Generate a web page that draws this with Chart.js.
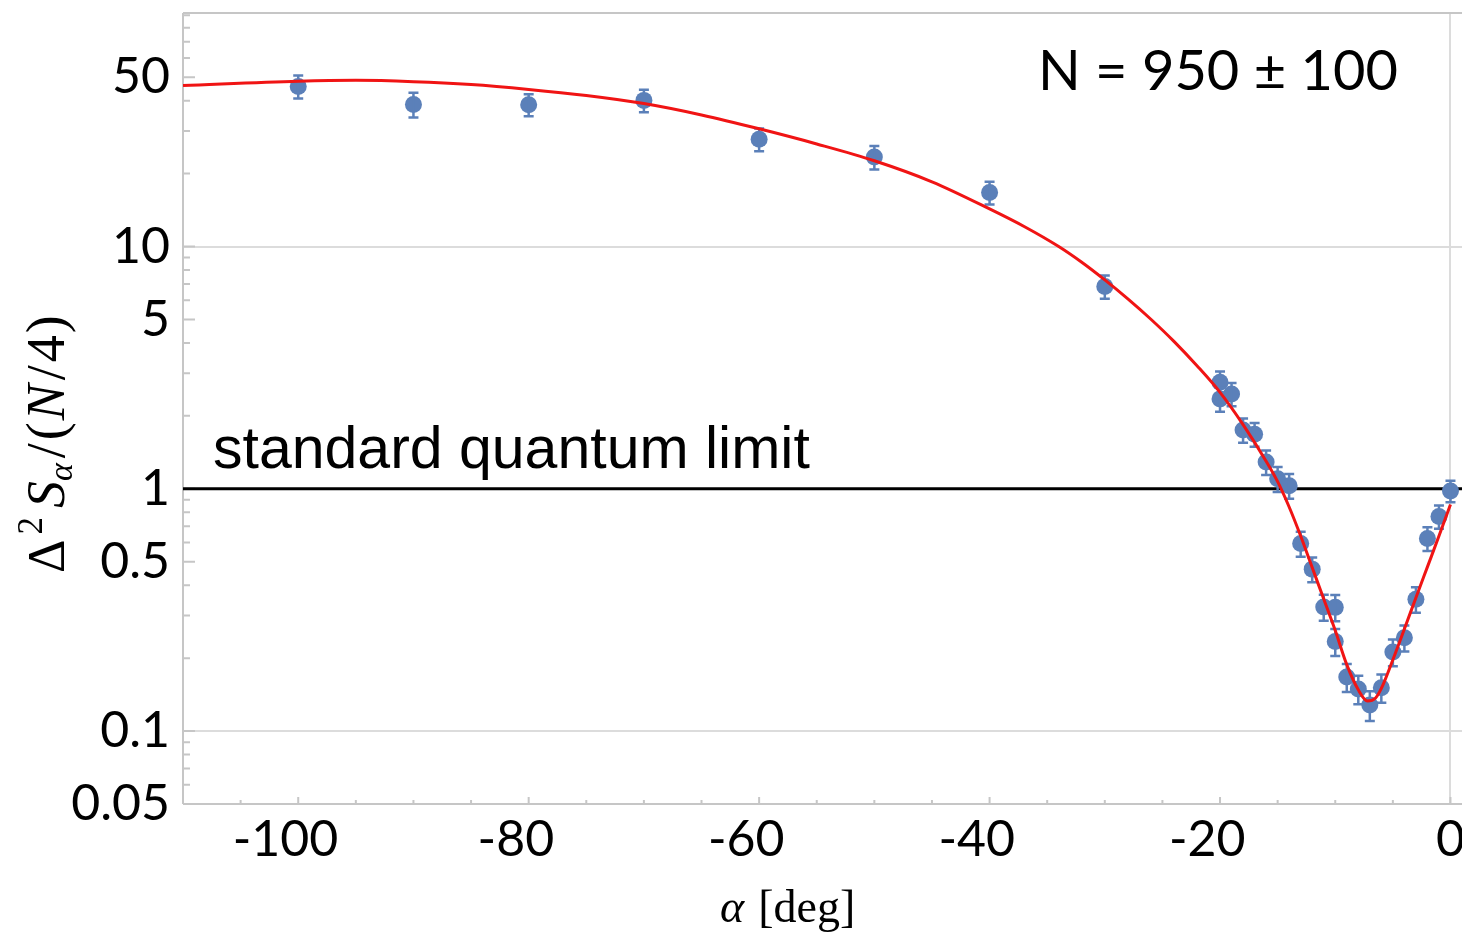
<!DOCTYPE html>
<html><head><meta charset="utf-8">
<script src="https://cdn.jsdelivr.net/npm/chart.js@4/dist/chart.umd.min.js"></script>
<style>html,body{margin:0;padding:0;background:#fff;overflow:hidden}#wrap{width:1540px;height:935px;position:relative}</style>
</head><body><div id="wrap"><canvas id="c" width="1462" height="935"></canvas></div>
<script>
// ---- data ----
const angleData    = [-100,-90,-80,-70,-60,-50,-40,-30,-20,-20,-19,-18,-17,-16,-15,-14,-13,-12,-11,-10,-10,-9,-8,-7,-6,-5,-4,-3,-2,-1,0];
const varianceData = [45.8,38.6,38.5,40.1,27.7,23.4,16.7,6.84,2.75,2.35,2.46,1.75,1.68,1.29,1.10,1.03,0.594,0.466,0.325,0.324,0.234,0.167,0.149,0.128,0.151,0.212,0.243,0.350,0.623,0.769,0.98];
const varianceErr  = [5.0,4.5,4.0,4.3,3.0,2.6,1.8,0.75,0.30,0.27,0.27,0.20,0.19,0.15,0.13,0.12,0.07,0.055,0.04,0.04,0.03,0.022,0.02,0.018,0.02,0.027,0.03,0.042,0.07,0.085,0.10];
const fitAngle     = [-110,-100,-95,-90,-85,-80,-75,-70,-65,-60,-55,-50,-45,-40,-37,-34,-32,-30,-28,-26,-24,-22,-20,-18,-16,-15,-14,-13,-12,-11,-10,-9,-8,-7.2,-6.5,-6,-5,-4,-3,-2,-1,0];
const fitVariance  = [46.2,48.1,48.5,47.9,46.6,44.5,42.0,38.9,34.9,30.6,26.5,22.6,18.5,14.3,12.1,10.0,8.61,7.28,6.08,5.01,4.06,3.22,2.50,1.84,1.30,1.07,0.841,0.638,0.473,0.351,0.260,0.188,0.148,0.133,0.137,0.150,0.197,0.264,0.355,0.476,0.638,0.861];
const sqlLevel     = [1, 1];
const sqlAngle     = [-110, 1];
const xTickLabels  = [-100,-80,-60,-40,-20,0];
const yTickLabels  = [0.05,0.1,0.5,1,5,10,50];
const yGridValues  = [0.1,10];
const xGridValues  = [0];
const annotationText = 'N = 950 \u00B1 100';
const sqlText = 'standard quantum limit';

const GRAY = '#c6c6c6';
const BLUE = '#5b80b9';
const TARGET_RIGHT = 1462;

const extras = {
  id: 'extras',
  afterDatasetDraw(chart, args) {
    if (args.index !== 1) return;
    const ctx = chart.ctx, xs = chart.scales.x, ys = chart.scales.y;
    ctx.save();
    ctx.strokeStyle = BLUE; ctx.lineWidth = 2.5;
    angleData.forEach((a, i) => {
      const px = xs.getPixelForValue(a);
      const y1 = ys.getPixelForValue(varianceData[i] + varianceErr[i]);
      const y2 = ys.getPixelForValue(varianceData[i] - varianceErr[i]);
      ctx.beginPath();
      ctx.moveTo(px, y1); ctx.lineTo(px, y2);
      ctx.moveTo(px - 5, y1); ctx.lineTo(px + 5, y1);
      ctx.moveTo(px - 5, y2); ctx.lineTo(px + 5, y2);
      ctx.stroke();
    });
    ctx.restore();
  },
  beforeDatasetsDraw(chart) {
    const ctx = chart.ctx, a = chart.chartArea, xs = chart.scales.x, ys = chart.scales.y;
    ctx.save();
    ctx.strokeStyle = GRAY; ctx.lineWidth = 2;
    ctx.beginPath();
    ctx.moveTo(a.left, a.top); ctx.lineTo(a.right, a.top);
    ctx.moveTo(a.left, a.top); ctx.lineTo(a.left, a.bottom);
    ctx.moveTo(a.left, a.bottom); ctx.lineTo(a.right, a.bottom);
    ys.ticks.forEach(t => {
      const py = ys.getPixelForValue(t.value);
      const len = yTickLabels.includes(t.value) ? 12 : 7;
      ctx.moveTo(a.left, py); ctx.lineTo(a.left + len, py);
    });
    xs.ticks.forEach(t => {
      const px = xs.getPixelForValue(t.value);
      const len = xTickLabels.includes(t.value) ? 7 : 4;
      ctx.moveTo(px, a.bottom); ctx.lineTo(px, a.bottom - len);
    });
    ctx.stroke();
    ctx.restore();
  },
  afterDraw(chart) {
    const ctx = chart.ctx;
    ctx.save();
    ctx.fillStyle = '#000';
    ctx.textBaseline = 'alphabetic';
    ctx.textAlign = 'left';
    ctx.font = '56px Lato';
    ctx.fillText(annotationText, 1038, 90);
    ctx.font = '59px "Liberation Sans"';
    ctx.fillText(sqlText, 213, 468);
    // x title
    let x = 720;
    const bx = 922;
    ctx.font = 'italic 46px "Liberation Serif"';
    ctx.fillText('\u03B1', x, bx); x += ctx.measureText('\u03B1').width + 14;
    ctx.font = '46px "Liberation Serif"';
    ctx.fillText('[deg]', x, bx);
    // y title rotated
    ctx.translate(64, 573);
    ctx.rotate(-Math.PI / 2);
    const parts = [
      ['\u0394', '52px "Liberation Serif"', 0, 5],
      ['2', '35px "Liberation Serif"', -22, 9],
      ['S', 'italic 54px "Liberation Serif"', 0, 0],
      ['\u03B1', 'italic 34px "Liberation Serif"', 8, 5],
      ['/', '54px "Liberation Serif"', 0, 3],
      ['(', '54px "Liberation Serif"', 0, 2],
      ['N', 'italic 54px "Liberation Serif"', 0, 4],
      ['/', '54px "Liberation Serif"', 0, 3],
      ['4', '54px "Liberation Serif"', 0, 2],
      [')', '54px "Liberation Serif"', 0, 0]
    ];
    let p = 0;
    parts.forEach(([t, f, dy, gap]) => {
      ctx.font = f;
      ctx.fillText(t, p, dy);
      p += ctx.measureText(t).width + gap;
    });
    ctx.restore();
  }
};

const chart = new Chart(document.getElementById('c'), {
  type: 'scatter',
  data: {
    datasets: [
      { label: 'fit', type: 'line', data: fitAngle.map((a, i) => ({x: a, y: fitVariance[i]})),
        borderColor: '#f01414', borderWidth: 3, pointRadius: 0, fill: false,
        cubicInterpolationMode: 'monotone', order: 1 },
      { label: 'data', data: angleData.map((a, i) => ({x: a, y: varianceData[i]})),
        backgroundColor: BLUE, borderWidth: 0, pointRadius: 8.5, order: 2 },
      { label: 'sql', type: 'line', data: sqlAngle.map((a, i) => ({x: a, y: sqlLevel[i]})),
        borderColor: '#000', borderWidth: 3, pointRadius: 0, fill: false, order: 3 }
    ]
  },
  options: {
    responsive: false, maintainAspectRatio: false, animation: false, devicePixelRatio: 1,
    layout: { autoPadding: false, padding: { top: 13, right: 0, left: 0, bottom: 0 } },
    plugins: { legend: { display: false }, tooltip: { enabled: false } },
    events: [],
    scales: {
      x: {
        type: 'linear', min: -110, max: 1,
        afterBuildTicks(s) { const t = []; for (let v = -110; v <= 0; v += 5) t.push({value: v}); s.ticks = t; },
        afterFit(s) { s.height = 131; s.paddingLeft = 0; s.paddingRight = 0; },
        border: { display: false },
        grid: { drawTicks: false, lineWidth: 2,
          color: c => (c.tick && xGridValues.includes(c.tick.value)) ? '#dcdcdc' : 'rgba(0,0,0,0)' },
        ticks: { autoSkip: false, maxRotation: 0, padding: 6, color: '#000',
          font: { family: 'Lato', size: 50 },
          callback: v => xTickLabels.includes(v) ? (v < 0 ? String(v) + '  ' : String(v)) : '' }
      },
      y: {
        type: 'logarithmic', min: 0.05, max: 92,
        afterBuildTicks(s) {
          const t = [];
          [0.01, 0.1, 1, 10].forEach(d => { for (let m = 1; m <= 9; m++) {
            const v = parseFloat((m * d).toPrecision(3)); if (v >= 0.05 && v <= 92) t.push({value: v}); } });
          s.ticks = t;
        },
        afterFit(s) { s.width = 183; s.paddingTop = 0; s.paddingBottom = 0; },
        border: { display: false },
        grid: { drawTicks: false, lineWidth: 2,
          color: c => (c.tick && yGridValues.includes(c.tick.value)) ? '#dcdcdc' : 'rgba(0,0,0,0)' },
        ticks: { autoSkip: false, padding: 13, color: '#000',
          font: { family: 'Lato', size: 50 },
          callback: v => yTickLabels.includes(v) ? String(v) : '' }
      }
    }
  },
  plugins: [extras]
});
for (let k = 0; k < 4; k++) {
  const d = TARGET_RIGHT - chart.chartArea.right;
  if (Math.abs(d) < 0.5) break;
  chart.resize(chart.width + d, 935);
}
</script></body></html>
